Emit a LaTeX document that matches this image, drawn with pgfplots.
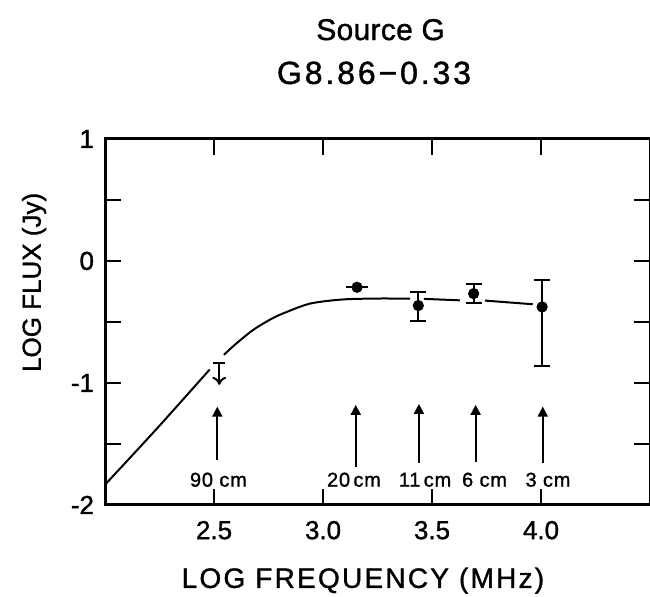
\documentclass[border=0pt]{standalone}
\usepackage{fontspec}
\setmainfont{Liberation Sans}[RawFeature={embolden=1.2}]
\newfontfamily\fLab[LetterSpace=8,RawFeature={embolden=1.2}]{Liberation Sans}
\newfontfamily\fTitA[LetterSpace=1,RawFeature={embolden=1.2}]{Liberation Sans}
\newfontfamily\fTitB[LetterSpace=9,RawFeature={embolden=1.2}]{Liberation Sans}
\newfontfamily\fWav[LetterSpace=4,RawFeature={embolden=1.2}]{Liberation Sans}
\usepackage{pgfplots}
\pgfplotsset{compat=1.18}
\usetikzlibrary{arrows.meta}

\pgfplotstableread{
x y
2.00 -1.834
2.24 -1.37
2.48 -0.89
}\segA
\pgfplotstableread{
x y
2.545 -0.770
2.60 -0.68
2.68 -0.565
2.76 -0.478
2.82 -0.428
2.94 -0.350
3.09 -0.316
3.26 -0.308
3.40 -0.310
}\segB
\pgfplotstableread{
x y
3.463 -0.311
3.628 -0.323
}\segC
\pgfplotstableread{
x y
3.743 -0.325
3.962 -0.355
}\segD
\pgfplotstableread{
x y eyp eym
3.437 -0.366 0.115 0.126
3.691 -0.268 0.082 0.079
4.005 -0.377 0.219 0.484
}\pts
\pgfplotstableread{
x y ex
3.156 -0.216 0.05
}\ptx
\pgfplotstableread{
x y u v
2.515 -1.631 0 0.437
3.150 -1.686 0 0.506
3.440 -1.653 0 0.481
3.700 -1.645 0 0.465
4.008 -1.653 0 0.459
}\wav

\begin{document}
\begin{tikzpicture}
\begin{axis}[
  x=109pt, y=61pt,
  xmin=2, xmax=4.5, ymin=-2, ymax=1,
  axis line style={line width=1.5pt},
  xtick={2.5,3,3.5,4}, xticklabels={2.5,3.0,3.5,4.0},
  ytick={-2,-1.5,-1,-0.5,0,0.5,1}, yticklabels={-2,,-1,,0,,1},
  major tick length=8pt,
  tick style={line width=1.2pt, black},
  tick label style={font=\fontsize{13}{15}\selectfont},
  xticklabel style={yshift=-4.5pt},
  yticklabel style={xshift=-2pt},
  clip=false,
]
\coordinate (bbSW) at (axis cs:1.518,-2.754);
\coordinate (bbNE) at (axis cs:4.5,2.139);

\addplot[black, line width=1pt, no marks, smooth] table {\segA};
\addplot[black, line width=1pt, no marks, smooth] table {\segB};
\addplot[black, line width=1pt, no marks] table {\segC};
\addplot[black, line width=1pt, no marks] table {\segD};

\addplot[black, only marks, mark=*, mark size=2.6pt,
  error bars/.cd, y dir=both, y explicit,
  error bar style={line width=1pt},
  error mark options={rotate=90, mark size=4pt, line width=1pt}]
  table[x=x, y=y, y error plus=eyp, y error minus=eym] {\pts};

\addplot[black, only marks, mark=*, mark size=2.6pt,
  error bars/.cd, x dir=both, x explicit, error mark=none,
  error bar style={line width=1pt}]
  table[x=x, y=y, x error=ex] {\ptx};

% upper limit at 90 cm
\addplot[black, only marks, mark=-, mark size=3pt, mark options={line width=1pt}]
  coordinates {(2.524,-0.839)};
\addplot[black, line width=1pt, quiver={u=0, v=-0.177}, -{To[length=4pt,width=7pt]}]
  coordinates {(2.524,-0.839)};

% wavelength arrows
\addplot[black, line width=1pt, quiver={u=\thisrow{u}, v=\thisrow{v}},
  -{Triangle[length=5pt,width=5pt]}] table {\wav};

\node[font=\fWav\fontsize{10}{12}\selectfont, anchor=base] at (axis cs:2.520,-1.850) {90 cm};
\node[font=\fWav\fontsize{10}{12}\selectfont, anchor=base] at (axis cs:3.142,-1.850) {20\,cm};
\node[font=\fWav\fontsize{10}{12}\selectfont, anchor=base] at (axis cs:3.468,-1.850) {11\,cm};
\node[font=\fWav\fontsize{10}{12}\selectfont, anchor=base] at (axis cs:3.741,-1.850) {6 cm};
\node[font=\fWav\fontsize{10}{12}\selectfont, anchor=base] at (axis cs:4.032,-1.850) {3 cm};

\node[font=\fTitA\fontsize{15}{18}\selectfont, anchor=base] at (axis cs:3.264,1.811) {Source G};
\node[font=\fTitB\fontsize{16}{19}\selectfont, anchor=base] at (axis cs:3.234,1.451) {G8.86−0.33};
\node[font=\fLab\fontsize{14}{16}\selectfont, anchor=base] at (axis cs:3.183,-2.680) {LOG FREQUENCY (MHz)};
\node[font=\fontsize{13}{15}\selectfont, anchor=base, rotate=90] at (axis cs:1.705,-0.176) {LOG FLUX (Jy)};
\end{axis}
\pgfresetboundingbox
\useasboundingbox (bbSW) rectangle (bbNE);
\end{tikzpicture}
\end{document}
